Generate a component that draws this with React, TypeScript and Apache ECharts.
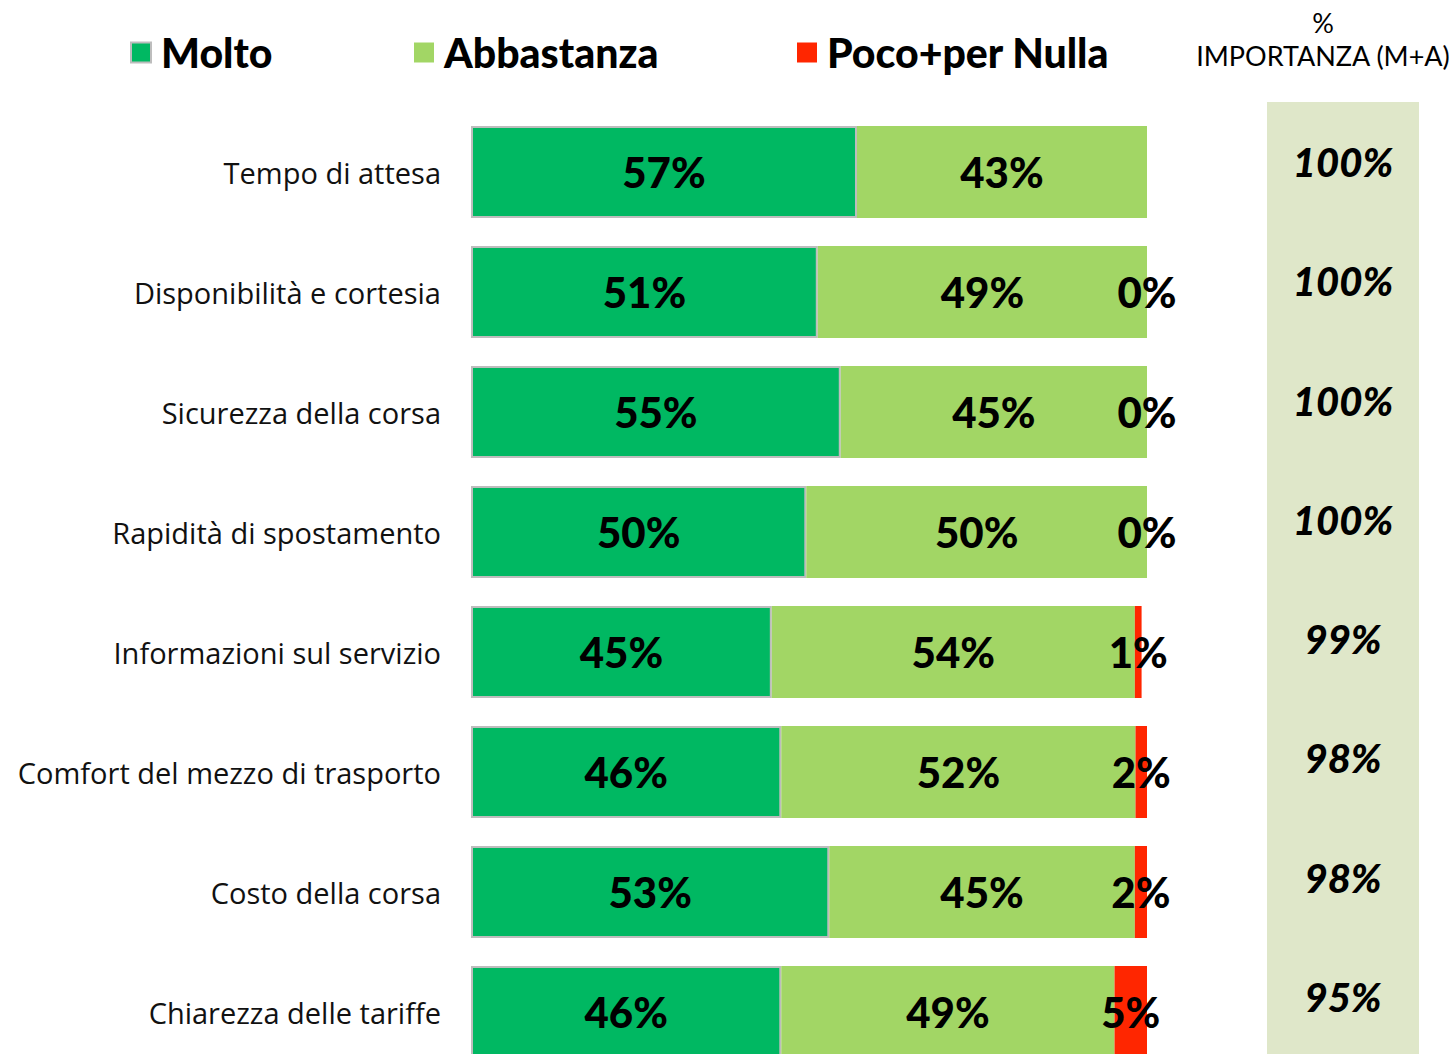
import React, { useEffect, useRef } from "react";
import * as echarts from "echarts";

const categories = [
  "Tempo di attesa",
  "Disponibilità e cortesia",
  "Sicurezza della corsa",
  "Rapidità di spostamento",
  "Informazioni sul servizio",
  "Comfort del mezzo di trasporto",
  "Costo della corsa",
  "Chiarezza delle tariffe",
];
const molto = [57.1, 51.3, 54.7, 49.6, 44.5, 45.9, 53.0, 45.9];
const abbastanza = [42.9, 48.7, 45.3, 50.4, 53.7, 52.4, 45.2, 49.3];
const poco = [0, 0, 0, 0, 1.0, 1.7, 1.8, 4.9];
const pocoLabelShown = [false, true, true, true, true, true, true, true];
const importanza = [100, 100, 100, 100, 99, 98, 98, 95];

const seriesNames = ["Molto", "Abbastanza", "Poco+per Nulla"];
const colors = ["#00B862", "#A2D665", "#FF2600"];

export default function App() {
  const ref = useRef<HTMLDivElement>(null);
  useEffect(() => {
    document.body.style.margin = "0";
    document.body.style.overflow = "hidden";
    if (!ref.current) return;
    const chart = echarts.init(ref.current, undefined, { renderer: "svg" });
    const barLabel = {
      show: true,
      position: "inside",
      color: "#000",
      fontFamily: "Lato",
      fontWeight: 900,
      fontSize: 42,
      formatter: (p: any) => Math.round(p.value) + "%",
    };
    const legendText = {
      fontFamily: "Lato",
      fontWeight: 900,
      fontSize: 41,
      color: "#000",
      padding: [0, 0, 0, 5],
    };
    const legendPos = [130, 414, 797];
    chart.setOption({
      animation: false,
      backgroundColor: "#fff",
      title: {
        text: "%\nIMPORTANZA (M+A)",
        left: 1323,
        textAlign: "center",
        top: 6,
        padding: 0,
        textStyle: {
          fontFamily: "Lato",
          fontWeight: "normal",
          fontSize: 27,
          lineHeight: 33,
          color: "#000",
        },
      },
      legend: seriesNames.map((n, i) => ({
        data: [n],
        left: legendPos[i],
        top: 32,
        padding: 0,
        itemWidth: 20,
        itemHeight: 20,
        icon: "rect",
        textStyle: legendText,
        selectedMode: false,
      })),
      graphic: [
        {
          type: "rect",
          z: 0,
          shape: { x: 1267, y: 102, width: 152, height: 1000 },
          style: { fill: "#DFE7C9" },
        },
      ],
      grid: [
        { left: 471, width: 676, top: 112, height: 960 },
        { left: 1267, width: 152, top: 102.5, height: 954 },
      ],
      xAxis: [
        { type: "value", min: 0, max: 100, show: false, gridIndex: 0 },
        { type: "value", min: 0, max: 100, show: false, gridIndex: 1 },
      ],
      yAxis: [
        {
          type: "category",
          data: categories,
          inverse: true,
          gridIndex: 0,
          axisLine: { show: false },
          axisTick: { show: false },
          axisLabel: {
            fontFamily: "Open Sans",
            fontSize: 29,
            color: "#111",
            margin: 30,
          },
        },
        {
          type: "category",
          data: categories,
          inverse: true,
          gridIndex: 1,
          show: false,
        },
      ],
      series: [
        {
          name: seriesNames[0],
          type: "bar",
          stack: "tot",
          barWidth: 92,
          data: molto,
          itemStyle: { color: colors[0], borderColor: "#BDBDBD", borderWidth: 2 },
          label: barLabel,
        },
        {
          name: seriesNames[1],
          type: "bar",
          stack: "tot",
          barWidth: 92,
          data: abbastanza,
          itemStyle: { color: colors[1] },
          label: barLabel,
        },
        {
          name: seriesNames[2],
          type: "bar",
          stack: "tot",
          barWidth: 92,
          data: poco.map((v, i) => ({
            value: v,
            label: { show: pocoLabelShown[i] },
          })),
          itemStyle: { color: colors[2] },
          label: barLabel,
        },
        {
          name: "Importanza",
          type: "scatter",
          xAxisIndex: 1,
          yAxisIndex: 1,
          symbolSize: 0,
          z: 5,
          itemStyle: { opacity: 1 },
          data: importanza.map((v, i) => [50, i, v]),
          label: {
            show: true,
            position: "inside",
            color: "#000",
            fontFamily: "Lato",
            fontWeight: 900,
            fontStyle: "italic",
            fontSize: 40,
            formatter: (p: any) => p.value[2] + "%",
          },
        },
      ],
    });
    return () => chart.dispose();
  }, []);
  return (
    <div style={{ width: 1453, height: 1054, overflow: "hidden" }}>
      <div ref={ref} style={{ width: 1453, height: 1100 }} />
    </div>
  );
}
